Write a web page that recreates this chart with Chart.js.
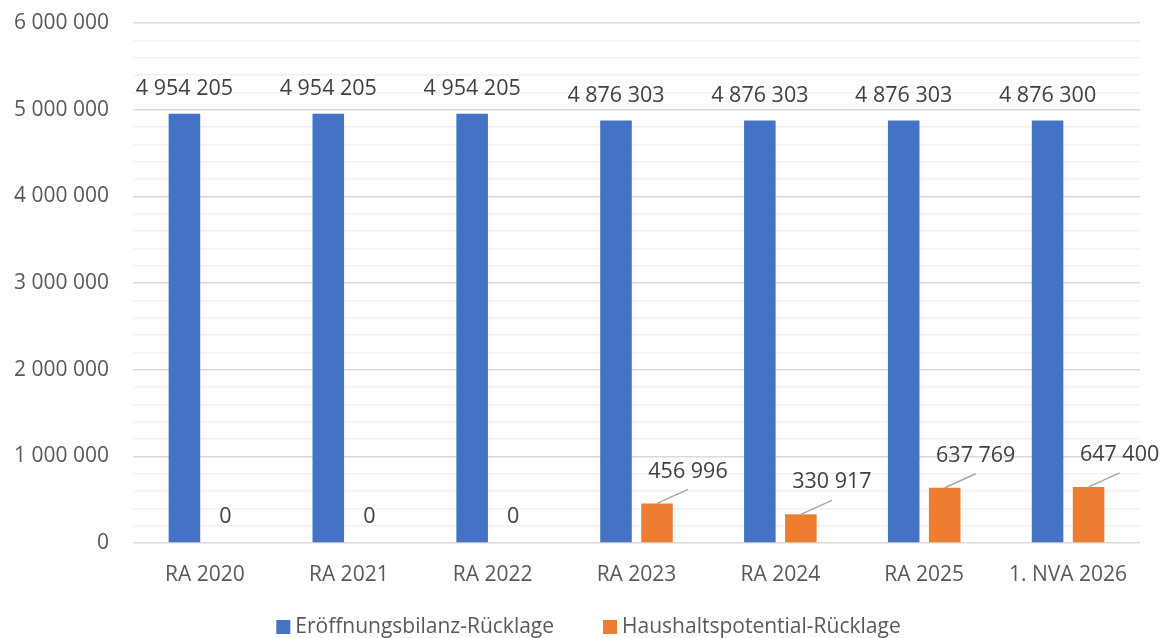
<!DOCTYPE html>
<html>
<head>
<meta charset="utf-8">
<script src="https://cdn.jsdelivr.net/npm/chart.js@4"></script>
<style>
  html, body { margin: 0; padding: 0; background: #fff; }
  #wrap { width: 1162px; height: 638px; position: relative; }
</style>
</head>
<body>
<div id="wrap"><canvas id="myChart"></canvas></div>
<script>
const categories = ['RA 2020', 'RA 2021', 'RA 2022', 'RA 2023', 'RA 2024', 'RA 2025', '1. NVA 2026'];
const eroeffnung = [4954205, 4954205, 4954205, 4876303, 4876303, 4876303, 4876300];
const haushalt = [0, 0, 0, 456996, 330917, 637769, 647400];
const seriesNames = ['Eröffnungsbilanz-Rücklage', 'Haushaltspotential-Rücklage'];
const seriesColors = ['#4472C4', '#ED7D31'];
const yTicks = [0, 1000000, 2000000, 3000000, 4000000, 5000000, 6000000];

const FONT = 'Open Sans';

function fmt(v) {
  return String(v).replace(/\B(?=(\d{3})+(?!\d))/g, ' ');
}

// data labels block
const barLabels = {
  id: 'barLabels',
  afterDatasetsDraw(chart) {
    const { ctx } = chart;
    ctx.save();
    ctx.font = '21.5px "' + FONT + '"';
    ctx.fillStyle = '#404040';
    ctx.textAlign = 'center';
    ctx.textBaseline = 'middle';

    // blue: above the bar
    chart.getDatasetMeta(0).data.forEach((bar, i) => {
      ctx.fillText(fmt(eroeffnung[i]), bar.x, bar.y - 25);
    });

    // orange: zero sits on the bar, others get a leader line
    chart.getDatasetMeta(1).data.forEach((bar, i) => {
      const v = haushalt[i];
      if (v === 0) {
        ctx.fillText('0', bar.x, bar.y - 26);
        return;
      }
      const lx = bar.x + 31, ly = bar.y - 32;
      ctx.beginPath();
      ctx.moveTo(bar.x, bar.y);
      ctx.lineTo(lx, ly + 18);
      ctx.strokeStyle = '#A6A6A6';
      ctx.lineWidth = 1.5;
      ctx.stroke();
      ctx.fillText(fmt(v), lx, ly);
    });
    ctx.restore();
  }
};

// legend block (Excel style: small gap between box and text)
const bottomLegend = {
  id: 'bottomLegend',
  afterDraw(chart) {
    const { ctx } = chart;
    const box = 14, gapText = 5, gapItem = 49, cy = 627;
    ctx.save();
    ctx.font = '21px "' + FONT + '"';
    ctx.textBaseline = 'middle';
    const items = chart.data.datasets.map(ds => ({
      text: ds.label, color: ds.backgroundColor, w: ctx.measureText(ds.label).width
    }));
    const total = items.reduce((a, it) => a + box + gapText + it.w, 0) + gapItem * (items.length - 1);
    let x = (chart.chartArea.left + chart.chartArea.right) / 2 - total / 2 - 48;
    items.forEach(it => {
      ctx.fillStyle = it.color;
      ctx.fillRect(x, cy - box / 2, box, box);
      x += box + gapText;
      ctx.fillStyle = '#595959';
      ctx.textAlign = 'left';
      ctx.fillText(it.text, x, cy);
      x += it.w + gapItem;
    });
    ctx.restore();
  }
};

const config = {
  type: 'bar',
  data: {
    labels: categories,
    datasets: [{
      label: seriesNames[0],
      data: eroeffnung,
      backgroundColor: seriesColors[0],
      categoryPercentage: 0.57,
      barPercentage: 0.77
    }, {
      label: seriesNames[1],
      data: haushalt,
      backgroundColor: seriesColors[1],
      categoryPercentage: 0.57,
      barPercentage: 0.77
    }]
  },
  options: {
    responsive: true,
    maintainAspectRatio: false,
    animation: false,
    layout: { padding: { top: 23, right: 22, left: 0, bottom: 0 } },
    plugins: {
      legend: { display: false },
      tooltip: { enabled: false }
    },
    scales: {
      x: {
        afterFit(scale) { scale.height = 95; },
        grid: { display: false, drawTicks: false },
        border: { display: false },
        ticks: {
          font: { family: FONT, size: 21 },
          color: '#595959',
          padding: 19,
          maxRotation: 0
        }
      },
      y: {
        min: yTicks[0],
        max: yTicks[yTicks.length - 1],
        afterFit(scale) {
          scale.width = 133;
          scale.paddingTop = 0;
          scale.paddingBottom = 0;
        },
        border: { display: false },
        grid: {
          drawTicks: false,
          color: (c) => yTicks.includes(c.tick.value) ? '#D9D9D9' : '#F2F2F2',
          lineWidth: 1.5
        },
        ticks: {
          stepSize: 200000,
          autoSkip: false,
          padding: 24,
          font: { family: FONT, size: 21 },
          color: '#595959',
          callback: (v) => yTicks.includes(v) ? fmt(v) : ''
        }
      }
    }
  },
  plugins: [barLabels, bottomLegend]
};

const myChart = new Chart(document.getElementById('myChart'), config);
</script>
</body>
</html>
